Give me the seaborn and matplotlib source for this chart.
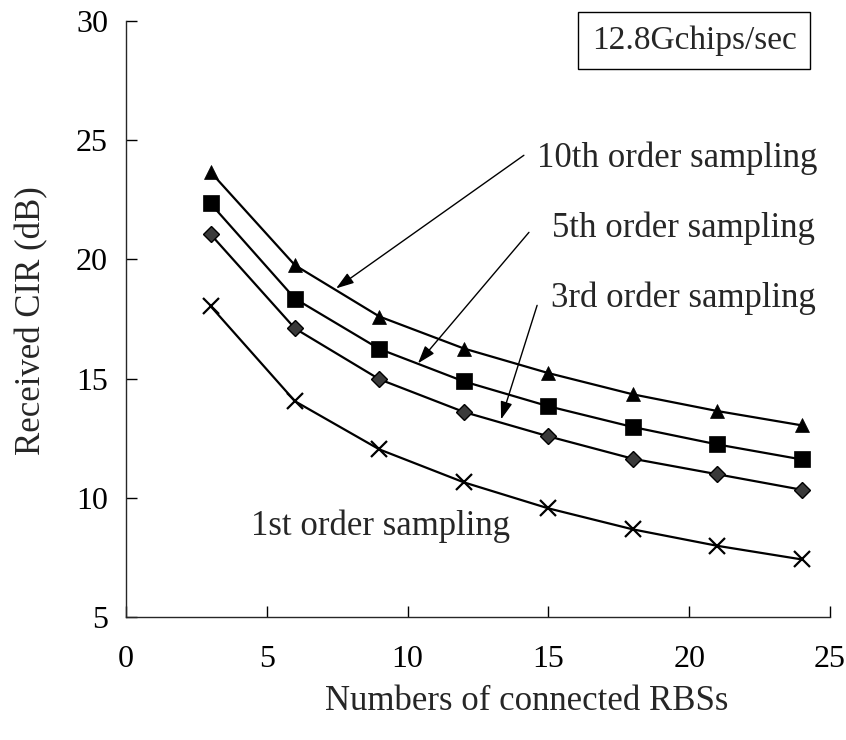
import matplotlib
matplotlib.use("Agg")
import matplotlib.pyplot as plt
import pandas as pd
import seaborn as sns

# Number of connected RBSs and received CIR (dB) for each sampling order
rbs = [3, 6, 9, 12, 15, 18, 21, 24]
cir_1st = [18.04, 14.05, 12.03, 10.65, 9.56, 8.68, 7.99, 7.42]
cir_3rd = [21.05, 17.10, 14.97, 13.60, 12.58, 11.64, 10.99, 10.34]
cir_5th = [22.34, 18.35, 16.24, 14.88, 13.84, 12.97, 12.24, 11.61]
cir_10th = [23.66, 19.75, 17.60, 16.26, 15.23, 14.34, 13.64, 13.04]

series_labels = ["1st order sampling", "3rd order sampling",
                 "5th order sampling", "10th order sampling"]
x_ticks = [0, 5, 10, 15, 20, 25]
y_ticks = [5, 10, 15, 20, 25, 30]

sns.set_theme(style="ticks")
plt.rcParams["font.family"] = ["Liberation Serif", "DejaVu Serif"]
plt.rcParams["axes.linewidth"] = 1.0

df = pd.concat([
    pd.DataFrame({"rbs": rbs, "cir": vals, "series": name})
    for name, vals in zip(series_labels, [cir_1st, cir_3rd, cir_5th, cir_10th])
])

fig = plt.figure(figsize=(8.46, 7.40), dpi=100)
ax = fig.add_axes([0.149, 0.166, 0.832, 0.806])

marker_styles = {
    "1st order sampling": dict(marker="x", markersize=11, markeredgewidth=1.6,
                               markerfacecolor="black", markeredgecolor="black"),
    "3rd order sampling": dict(marker="D", markersize=8, markeredgewidth=1.0,
                               markerfacecolor="#3a3a3a", markeredgecolor="black"),
    "5th order sampling": dict(marker="s", markersize=11, markeredgewidth=0.5,
                               markerfacecolor="black", markeredgecolor="black"),
    "10th order sampling": dict(marker="^", markersize=10, markeredgewidth=0.5,
                                markerfacecolor="black", markeredgecolor="black"),
}

for name in series_labels:
    sns.lineplot(data=df[df["series"] == name], x="rbs", y="cir",
                 color="black", linewidth=1.6, ax=ax, legend=False,
                 **marker_styles[name])

ax.set_xlim(0, 25)
ax.set_ylim(5, 30)
ax.set_xticks(x_ticks)
ax.set_yticks(y_ticks)
ax.tick_params(axis="both", direction="in", length=8, width=1.0,
               labelsize=23, colors="black")
ax.tick_params(axis="x", pad=20)
ax.tick_params(axis="y", pad=13)
sns.despine(ax=ax)

ax.set_xlabel("")
ax.set_ylabel("")
fig.text(0.623, 0.052, "Numbers of connected RBSs", ha="center", va="center",
         fontsize=25)
fig.text(0.038, 0.567, "Received CIR (dB)", ha="center", va="center",
         rotation=90, fontsize=25)

# Rate box in the upper right corner
ax.text(0.807, 0.967, "12.8Gchips/sec", transform=ax.transAxes,
        ha="center", va="center", fontsize=24,
        bbox=dict(boxstyle="square,pad=0.4", facecolor="white",
                  edgecolor="black", linewidth=1.0))

# Curve labels with pointing arrows
arrow = dict(arrowstyle="-|>,head_length=0.9,head_width=0.3",
             color="black", linewidth=1.0, shrinkA=0, shrinkB=0)
ax.annotate("", xy=(7.46, 18.78), xytext=(14.13, 24.36), arrowprops=arrow)
ax.annotate("", xy=(10.37, 15.64), xytext=(14.31, 21.13), arrowprops=arrow)
ax.annotate("", xy=(13.32, 13.29), xytext=(14.60, 18.07), arrowprops=arrow)
ax.text(14.6, 24.23, "10th order sampling", ha="left", va="center", fontsize=25)
ax.text(15.13, 21.30, "5th order sampling", ha="left", va="center", fontsize=25)
ax.text(15.10, 18.36, "3rd order sampling", ha="left", va="center", fontsize=25)
ax.text(4.44, 8.80, "1st order sampling", ha="left", va="center", fontsize=25)

fig.savefig("out.png", dpi=100, facecolor="white")
